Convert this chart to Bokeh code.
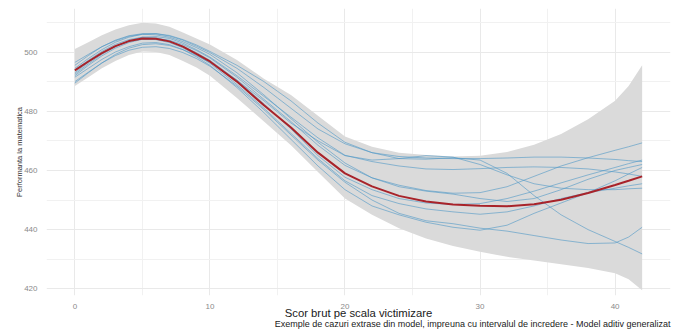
from bokeh.plotting import figure
from bokeh.models import Range1d, FixedTicker, Title
from bokeh.embed import file_html
from bokeh.resources import INLINE

# ---- data ----
x = [0, 1, 2, 3, 4, 5, 6, 7, 8, 9, 10, 12, 14, 16, 18, 20, 22, 24, 26, 28, 30, 32, 34, 36, 38, 40, 41, 42]

fit = [493.8, 496.8, 499.6, 502, 503.7, 504.6, 504.5, 503.6, 501.8, 499.4, 496.8, 490, 482, 474.5, 466, 459,
       454.6, 451.4, 449.5, 448.5, 448.1, 447.9, 448.6, 450.1, 452.4, 455.1, 456.5, 458]
ci_upper = [501, 503.3, 505.7, 507.6, 509, 509.9, 509.6, 508.5, 506.6, 504.6, 502.5, 497.3, 491, 485.5, 478.5,
            471.5, 468, 466, 465.2, 464.7, 465, 466.2, 468.7, 472.3, 477.3, 483.5, 488.5, 495.5]
ci_lower = [488.5, 491.5, 494.5, 497, 499, 500.2, 500, 499, 497, 494.8, 492, 484.5, 476.5, 468.5, 459.5, 450.5,
            445, 440.5, 437, 434.5, 432.5, 430.8, 429.6, 428.3, 427, 425.3, 423.2, 419.5]

case1 = [495.5, 498.8, 501.8, 504, 505.5, 506.2, 506.2, 505.4, 504, 502, 499.8, 494.5, 488, 481, 474, 469,
         466, 464.7, 464.2, 464, 464, 464.2, 464.5, 464.5, 464.2, 463.7, 463.3, 463]
case2 = [492, 495.5, 498.7, 501.3, 503.2, 504.3, 504.5, 504, 502.5, 500.5, 498, 491.5, 484, 476.5, 468.5, 461.7,
         457.5, 455, 453.2, 452.3, 452.5, 454.5, 458, 461.5, 464.3, 466.8, 468, 469.3]
case3 = [494.5, 497.8, 500.8, 503.3, 505, 506, 506.2, 505.6, 504.2, 502.4, 500.2, 495.5, 490, 483.5, 476, 469.5,
         466, 464, 463.8, 464.3, 463.5, 459, 451.5, 445, 440, 436, 434, 431.8]
case4 = [490, 493.2, 496.3, 498.8, 500.6, 501.6, 501.8, 501.2, 499.8, 497.8, 495.2, 488.5, 480.5, 472, 463.5, 456,
         450, 445.5, 443, 442, 440.5, 439.5, 438, 436.5, 435.3, 435.5, 437.5, 440.8]
case5 = [491.5, 494.5, 497.5, 500, 501.8, 503, 503.2, 502.5, 500.8, 498.4, 495.5, 488, 479.5, 470.5, 461.5, 453.5,
         448, 445, 442.5, 440.8, 439.8, 441.5, 445.5, 449, 452.5, 456.5, 458.8, 461]
case6 = [493, 496.5, 499.6, 502, 503.6, 504.4, 504.2, 503.2, 501.4, 499, 496.2, 489, 481, 472.5, 464, 456.5,
         451.5, 448.8, 447, 446, 445.2, 446, 448, 450.5, 452.5, 454, 454.8, 455.5]
case7 = [496.5, 499.2, 501.8, 503.8, 505.3, 506, 505.8, 505, 503.5, 501.5, 499.2, 493, 485.5, 477.5, 469.5, 462.5,
         457.5, 454.5, 453, 452, 450.5, 449.5, 450.5, 453.5, 457, 460, 461, 462]
case8 = [492.5, 496, 499.2, 501.8, 503.8, 505, 505.2, 504.6, 503, 500.8, 498.3, 492, 485, 478, 471, 465.1,
         463, 461.5, 460.5, 460.3, 460.6, 461, 461.2, 461, 460.5, 459.5, 458.8, 458]
case9 = [489.5, 493, 496.3, 499.2, 501.3, 502.5, 502.8, 502.2, 500.8, 498.8, 496.5, 490.5, 483.5, 476, 470, 465,
         463.5, 464, 465, 464.5, 462, 458.5, 455.5, 454, 453.5, 453.5, 453.8, 454]
case10 = [494, 497.2, 500.2, 502.6, 504.2, 505, 504.8, 503.8, 502, 499.8, 497.2, 490.5, 482.5, 474, 465, 457.7,
          453.5, 450.5, 449, 448.5, 448.8, 450.5, 453, 455.8, 458.5, 461, 462.3, 463.5]
cases = [case1, case2, case3, case4, case5, case6, case7, case8, case9, case10]

x_ticks = [0, 10, 20, 30, 40]
x_minor = [5, 15, 25, 35]
y_ticks = [420, 440, 460, 480, 500]
y_minor = [430, 450, 470, 490, 510]

x_title = "Scor brut pe scala victimizare"
y_title = "Performanta la matematica"
caption = "Exemple de cazuri extrase din model, impreuna cu intervalul de incredere - Model aditiv generalizat"

FONT = "Liberation Sans"

p = figure(width=678, height=332, output_backend="svg", toolbar_location=None,
           x_range=Range1d(-2.1, 44.1), y_range=Range1d(417.75, 514.7),
           min_border_left=46, min_border_right=8, min_border_top=8, min_border_bottom=37)
p.outline_line_color = None
p.background_fill_color = "white"
p.border_fill_color = "white"

p.xaxis.ticker = FixedTicker(ticks=x_ticks, minor_ticks=x_minor)
p.yaxis.ticker = FixedTicker(ticks=y_ticks, minor_ticks=y_minor)

for g in (p.xgrid, p.ygrid):
    g.grid_line_color = "#e9e9e9"
    g.grid_line_width = 1
    g.minor_grid_line_color = "#f1f1f1"
    g.minor_grid_line_width = 1

for ax in (p.xaxis, p.yaxis):
    ax.axis_line_color = None
    ax.major_tick_line_color = None
    ax.minor_tick_line_color = None
    ax.major_label_text_font = FONT
    ax.major_label_text_font_size = "8px"
    ax.major_label_text_color = "#8a8a8a"
    ax.axis_label_text_font = FONT
    ax.axis_label_text_font_style = "normal"

p.xaxis.axis_label = x_title
p.xaxis.axis_label_text_font_size = "11.3px"
p.xaxis.axis_label_text_color = "#1a1a1a"
p.xaxis.major_label_standoff = 2
p.xaxis.axis_label_standoff = -5

p.yaxis.axis_label = y_title
p.yaxis.axis_label_text_font_size = "7.5px"
p.yaxis.axis_label_text_color = "#333333"
p.yaxis.major_label_standoff = 3
p.yaxis.axis_label_standoff = -3

p.add_layout(Title(text=caption, align="right", text_font=FONT, text_font_size="9px",
                   text_font_style="normal", text_color="#1a1a1a", standoff=-9), "below")

# confidence band
p.varea(x=x, y1=ci_lower, y2=ci_upper, fill_color="#dadada", fill_alpha=1.0)

# sampled cases
for c in cases:
    p.line(x, c, line_color="#4f97c7", line_width=1, line_alpha=0.6)

# fitted curve
p.line(x, fit, line_color="#a8232a", line_width=2)

open("out.html", "w").write(file_html(p, INLINE))
